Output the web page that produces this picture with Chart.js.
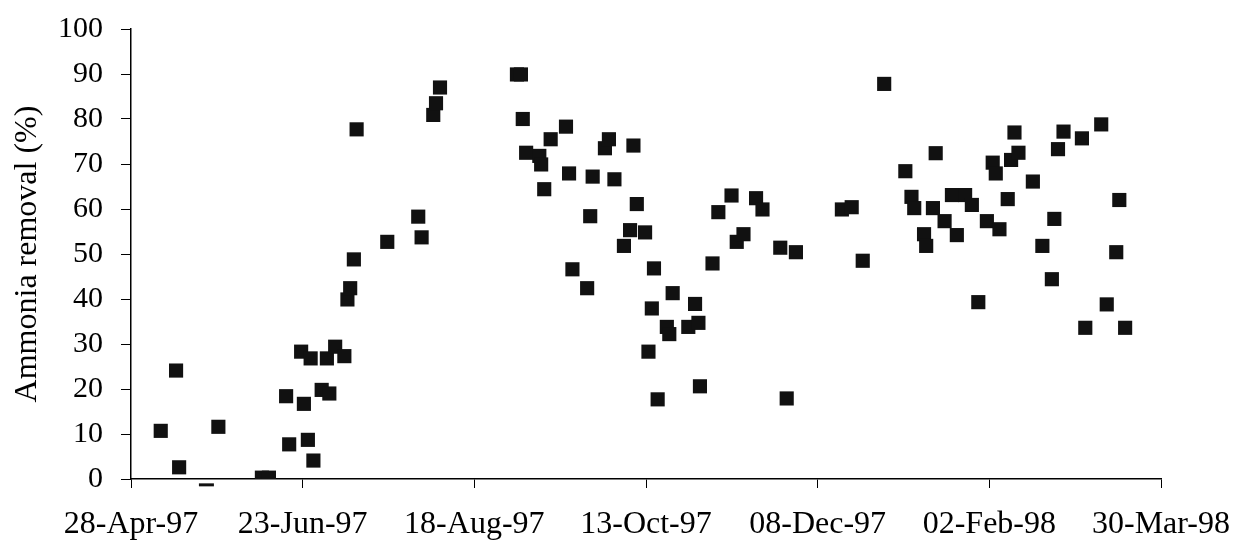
<!DOCTYPE html>
<html>
<head>
<meta charset="utf-8">
<script src="https://cdn.jsdelivr.net/npm/chart.js@4/dist/chart.umd.min.js"></script>
<style>
  html, body { margin: 0; padding: 0; background: #fff; }
  #wrap { width: 1233px; height: 541px; position: relative; }
</style>
</head>
<body>
<div id="wrap"><canvas id="chart"></canvas></div>
<script>
// x values are days counted from 28-Apr-97
const dateLabels = ['28-Apr-97', '23-Jun-97', '18-Aug-97', '13-Oct-97', '08-Dec-97', '02-Feb-98', '30-Mar-98'];

const days = [
  9.7, 14.7, 15.7, 28.5, 42.7, 45.0, 50.6, 51.6, 55.5, 56.4, 57.7, 58.6, 59.5, 62.2, 63.9, 64.7,
  66.6, 69.6, 70.6, 71.5, 72.7, 73.6, 83.6, 93.7, 94.8, 98.6, 99.5, 100.8,
  125.9, 127.2, 127.8, 128.9, 133.2, 133.8, 134.8, 136.9, 141.9, 142.9, 144.0, 148.8, 149.8, 150.6,
  154.6, 155.9, 157.7, 160.8, 162.8, 163.9, 165.0, 167.7, 169.9, 170.6, 168.8, 171.8, 174.8, 175.6,
  176.7, 181.8, 184.0, 185.1, 185.6, 189.7, 191.6, 195.9, 197.6, 199.8, 203.9, 206.0, 211.8, 213.9, 216.9,
  231.9, 235.1, 238.7, 245.7, 252.6, 254.6, 255.5, 258.7, 259.4, 261.6, 262.5, 265.4, 267.8, 269.4,
  272.1, 274.3, 276.4, 279.2, 281.1, 282.1, 283.3, 286.0, 287.1, 288.2, 289.5, 294.2, 297.3, 300.4,
  301.2, 302.4, 304.2, 310.2, 311.3, 316.5, 318.3, 321.4, 322.4, 324.3
];

const removal = [
  10.7, 24.1, 2.6, 11.6, 0.3, 0.3, 18.4, 7.7, 28.3, 16.7, 8.7, 26.8, 4.1, 19.8, 26.8, 19.0,
  29.4, 27.3, 39.9, 42.4, 48.8, 77.7, 52.7, 58.3, 53.7, 80.9, 83.5, 87.0,
  89.9, 89.9, 80.0, 72.5, 71.8, 69.9, 64.4, 75.5, 78.3, 67.9, 46.6, 42.4, 58.4, 67.2,
  73.5, 75.5, 66.6, 51.8, 55.3, 74.1, 61.1, 54.8, 37.9, 46.8, 28.3, 17.7, 33.8, 32.2,
  41.3, 33.8, 38.9, 34.7, 20.6, 47.9, 59.3, 63.0, 52.7, 54.4, 62.4, 59.9, 51.4, 17.9, 50.4,
  59.9, 60.4, 48.5, 87.8, 68.4, 62.7, 60.2, 54.4, 51.8, 60.2, 72.4, 57.3, 63.1, 54.2,
  63.1, 60.9, 39.3, 57.3, 70.3, 67.9, 55.5, 62.2, 70.9, 77.0, 72.5, 66.1, 51.8, 44.4,
  57.8, 73.3, 77.2, 75.7, 33.6, 78.8, 38.8, 50.4, 62.0, 33.6
];

// one slightly negative reading, drawn below the axis as a short dash
const belowDays = [24.6];
const belowRemoval = [-1.3];

const serif = "'Liberation Serif', 'Times New Roman', serif";

const ctx = document.getElementById('chart');
new Chart(ctx, {
  type: 'scatter',
  data: {
    datasets: [
      {
        data: days.map((d, i) => ({ x: d, y: removal[i] })),
        pointStyle: 'rect',
        pointRadius: 10,
        borderWidth: 0,
        backgroundColor: '#111'
      },
      {
        data: belowDays.map((d, i) => ({ x: d, y: belowRemoval[i] })),
        pointStyle: 'line',
        pointRadius: 7.5,
        borderWidth: 3,
        borderColor: '#111',
        clip: false
      }
    ]
  },
  options: {
    responsive: true,
    maintainAspectRatio: false,
    animation: false,
    events: [],
    layout: { padding: { top: 29, right: 72, bottom: 0, left: 0 } },
    plugins: { legend: { display: false }, tooltip: { enabled: false } },
    scales: {
      x: {
        type: 'linear',
        min: 0,
        max: 336,
        afterFit: s => { s.height = 62; s.paddingLeft = 0; s.paddingRight = 0; },
        afterBuildTicks: s => { s.ticks = dateLabels.map((_, i) => ({ value: i * 56 })); },
        ticks: {
          autoSkip: false,
          maxRotation: 0,
          padding: 17,
          color: '#000',
          font: { family: serif, size: 32 },
          callback: (v, i) => dateLabels[i]
        },
        grid: { drawOnChartArea: false, tickLength: 9, color: '#000' },
        border: { color: '#000', width: 1.5 }
      },
      y: {
        min: 0,
        max: 100,
        afterFit: s => { s.width = 131; s.paddingTop = 0; s.paddingBottom = 0; },
        ticks: {
          stepSize: 10,
          padding: 18,
          color: '#000',
          font: { family: serif, size: 30 }
        },
        grid: { drawOnChartArea: false, tickLength: 10, color: '#000' },
        border: { color: '#000', width: 1.5 },
        title: {
          display: true,
          text: 'Ammonia removal (%)',
          color: '#000',
          padding: { top: 8, bottom: 0 },
          font: { family: serif, size: 32 }
        }
      }
    }
  }
});
</script>
</body>
</html>
